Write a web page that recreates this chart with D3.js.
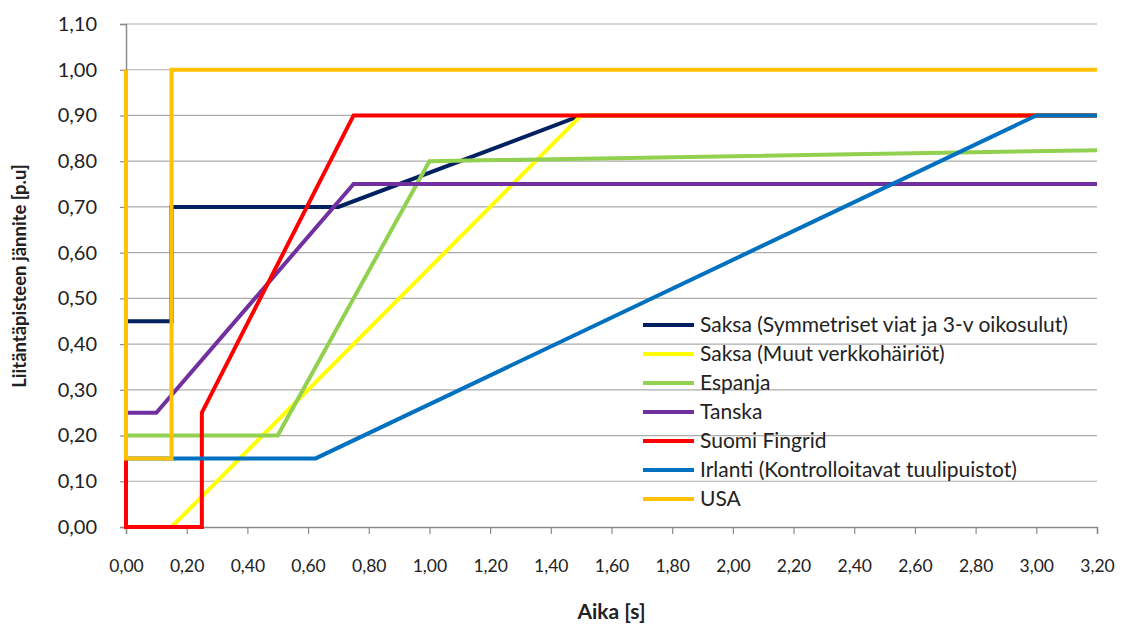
<!DOCTYPE html>
<html><head><meta charset="utf-8">
<script src="https://cdn.jsdelivr.net/npm/d3@7"></script>
<style>
body{margin:0;background:#fff;}
text{font-family:Lato,"Open Sans",sans-serif;fill:#222;}
</style></head><body>
<svg id="c" width="1129" height="628"></svg>
<script>
// Data: [time s, voltage p.u.]
const seriesNames = [
  "Saksa (Symmetriset viat ja 3-v oikosulut)",
  "Saksa (Muut verkkohäiriöt)",
  "Espanja",
  "Tanska",
  "Suomi Fingrid",
  "Irlanti (Kontrolloitavat tuulipuistot)",
  "USA"
];
const seriesColors = ["#002060","#FFFF00","#92D050","#7030A0","#FF0000","#0070C0","#FFC000"];
const saksaSym   = [[0,0],[0,0.45],[0.15,0.45],[0.15,0.70],[0.70,0.70],[1.50,0.90],[3.20,0.90]];
const saksaMuut  = [[0,0],[0.15,0],[1.50,0.90],[3.20,0.90]];
const espanja    = [[0,0.20],[0.50,0.20],[1.00,0.80],[3.20,0.824]];
const tanska     = [[0,0.25],[0.10,0.25],[0.75,0.75],[3.20,0.75]];
const suomi      = [[0,0.15],[0,0],[0.25,0],[0.25,0.25],[0.75,0.90],[3.20,0.90]];
const irlanti    = [[0,0.15],[0.625,0.15],[3.00,0.90],[3.20,0.90]];
const usa        = [[0,1.00],[0,0.15],[0.15,0.15],[0.15,1.00],[3.20,1.00]];
const seriesData = [saksaSym, saksaMuut, espanja, tanska, suomi, irlanti, usa];
const xTicks = d3.range(0, 3.2001, 0.2);
const yTicks = d3.range(0, 1.1001, 0.1);
const xLabel = "Aika [s]";
const yLabel = "Liitäntäpisteen jännite [p.u]";

const svg = d3.select("#c");
const L = 126, R = 1097, T = 24, B = 527;
const x = d3.scaleLinear().domain([0, 3.2]).range([L, R]);
const y = d3.scaleLinear().domain([0, 1.1]).range([B, T]);
const fmt = v => v.toFixed(2).replace(".", ",");

// gridlines
svg.append("g").selectAll("line").data(yTicks.slice(1)).join("line")
  .attr("x1", L).attr("x2", R).attr("y1", d => y(d)).attr("y2", d => y(d))
  .attr("stroke", "#ababab").attr("stroke-width", 1.2);

// y axis
const ya = svg.append("g").attr("transform", `translate(${L},0)`)
  .call(d3.axisLeft(y).tickValues(yTicks).tickFormat(fmt).tickSize(6).tickPadding(23));
ya.select(".domain").attr("stroke", "#8c8c8c").attr("stroke-width", 1.5);
ya.selectAll(".tick line").attr("stroke", "#8c8c8c").attr("stroke-width", 1.2);
ya.selectAll("text").attr("font-size", 20).attr("font-family", "Lato,sans-serif").attr("fill", "#222");

// x axis
const xa = svg.append("g").attr("transform", `translate(0,${B})`)
  .call(d3.axisBottom(x).tickValues(xTicks).tickFormat(fmt).tickSize(7).tickPadding(26));
xa.select(".domain").attr("stroke", "#8c8c8c").attr("stroke-width", 1.5);
xa.selectAll(".tick line").attr("stroke", "#8c8c8c").attr("stroke-width", 1.2);
xa.selectAll("text").attr("font-size", 17.5).attr("font-family", "Lato,sans-serif").attr("fill", "#222");

// lines
const line = d3.line().x(d => x(d[0])).y(d => y(d[1]));
svg.append("g").selectAll("path").data(seriesData).join("path")
  .attr("d", line).attr("fill", "none")
  .attr("stroke", (d, i) => seriesColors[i]).attr("stroke-width", 4)
  .attr("stroke-linejoin", "miter");

// legend
const lg = svg.append("g");
seriesNames.forEach((n, i) => {
  const yy = 325 + i * 29;
  lg.append("line").attr("x1", 643).attr("x2", 694).attr("y1", yy).attr("y2", yy)
    .attr("stroke", seriesColors[i]).attr("stroke-width", 4);
  lg.append("text").attr("x", 700).attr("y", yy).attr("dy", "0.35em")
    .attr("font-size", 21).text(n);
});

// axis titles
svg.append("text").attr("x", (L + R) / 2).attr("y", 619).attr("text-anchor", "middle")
  .attr("font-size", 21).attr("font-weight", "bold").text(xLabel);
svg.append("text").attr("transform", `translate(26,276) rotate(-90)`).attr("text-anchor", "middle")
  .attr("font-size", 18.5).attr("font-weight", "bold").text(yLabel);
</script>
</body></html>
